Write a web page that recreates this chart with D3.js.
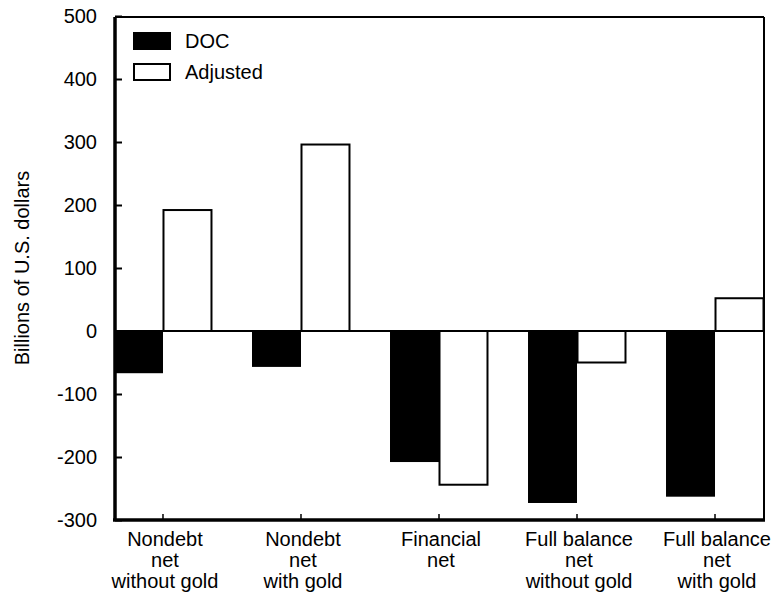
<!DOCTYPE html>
<html>
<head>
<meta charset="utf-8">
<script src="https://cdn.jsdelivr.net/npm/d3@7"></script>
<style>
  html, body { margin: 0; padding: 0; background: #fff; }
  svg { display: block; }
  text { font-family: "Liberation Sans", Arial, Helvetica, sans-serif; fill: #000; }
</style>
</head>
<body>
<svg id="chart" width="781" height="596"></svg>
<script>
const categories = [
  ["Nondebt", "net", "without gold"],
  ["Nondebt", "net", "with gold"],
  ["Financial", "net"],
  ["Full balance", "net", "without gold"],
  ["Full balance", "net", "with gold"]
];
const seriesNames = ["DOC", "Adjusted"];
const docValues = [-67, -57, -208, -273, -263];
const adjustedValues = [192, 296, -244, -50, 52];
const yTicks = [500, 400, 300, 200, 100, 0, -100, -200, -300];
const yLabel = "Billions of U.S. dollars";

const svg = d3.select("#chart");
const pLeft = 115, pRight = 764, pTop = 17, pBottom = 520;

const catKeys = categories.map((c, i) => i);
const x0 = d3.scaleBand().domain(catKeys).range([114, 764]).paddingInner(0.29).paddingOuter(0);
const x1 = d3.scaleBand().domain(seriesNames).range([0, x0.bandwidth()]).padding(0);
const y = d3.scaleLinear().domain([-300, 500]).range([520, 16]);

const data = catKeys.map(i => ({ i, values: [
  { s: "DOC", v: docValues[i] },
  { s: "Adjusted", v: adjustedValues[i] }
]}));

// bars
const g = svg.append("g");
const groups = g.selectAll("g.grp").data(data).join("g")
  .attr("transform", d => `translate(${x0(d.i)},0)`);
groups.selectAll("rect").data(d => d.values).join("rect")
  .attr("x", d => x1(d.s) + (d.s === "Adjusted" ? 0.5 : 0))
  .attr("width", d => x1.bandwidth() - (d.s === "Adjusted" ? 1 : 0))
  .attr("y", d => Math.min(y(d.v), y(0)))
  .attr("height", d => Math.abs(y(d.v) - y(0)))
  .attr("fill", d => d.s === "DOC" ? "#000" : "#fff")
  .attr("stroke", "#000")
  .attr("stroke-width", d => d.s === "DOC" ? 0 : 2);

// zero line
svg.append("line").attr("x1", pLeft).attr("x2", pRight)
  .attr("y1", y(0)).attr("y2", y(0))
  .attr("stroke", "#000").attr("stroke-width", 2);

// frame
svg.append("line").attr("x1", pLeft).attr("x2", pRight).attr("y1", pTop).attr("y2", pTop)
  .attr("stroke", "#000").attr("stroke-width", 2);
svg.append("line").attr("x1", pRight).attr("x2", pRight).attr("y1", pTop).attr("y2", pBottom)
  .attr("stroke", "#000").attr("stroke-width", 2);

// y axis
const yAxis = d3.axisLeft(y).tickValues(yTicks).tickSize(-7).tickPadding(18).tickFormat(d => String(d));
const ya = svg.append("g").attr("transform", `translate(${pLeft},0)`).call(yAxis);
ya.select(".domain").attr("stroke-width", 3.5).attr("d", `M0,${pTop}V${pBottom + 1}`);
ya.selectAll(".tick line").attr("stroke-width", 2);
ya.selectAll(".tick text").attr("font-size", 20).attr("font-family", "Liberation Sans, Arial, sans-serif");

// x axis line and ticks at group centers
svg.append("line").attr("x1", pLeft - 2).attr("x2", pRight + 1).attr("y1", pBottom).attr("y2", pBottom)
  .attr("stroke", "#000").attr("stroke-width", 3.5);
svg.append("g").selectAll("line").data(catKeys).join("line")
  .attr("x1", i => x0(i) + x0.bandwidth() / 2)
  .attr("x2", i => x0(i) + x0.bandwidth() / 2)
  .attr("y1", pBottom).attr("y2", pBottom - 6)
  .attr("stroke", "#000").attr("stroke-width", 1.5);

// category labels
const lab = svg.append("g").selectAll("text").data(catKeys).join("text")
  .attr("text-anchor", "middle")
  .attr("font-size", 20);
lab.each(function(i) {
  const t = d3.select(this);
  categories[i].forEach((line, k) => {
    t.append("tspan").attr("x", x0(i) + x0.bandwidth() / 2 + 2).attr("y", 546 + k * 21).text(line);
  });
});

// y label
svg.append("text")
  .attr("transform", "translate(29,268) rotate(-90)")
  .attr("text-anchor", "middle")
  .attr("font-size", 20)
  .text(yLabel);

// legend
const legend = svg.append("g");
seriesNames.forEach((s, k) => {
  legend.append("rect")
    .attr("x", s === "DOC" ? 133 : 134).attr("y", (s === "DOC" ? 32 : 64))
    .attr("width", s === "DOC" ? 38 : 36).attr("height", s === "DOC" ? 18 : 16)
    .attr("fill", s === "DOC" ? "#000" : "#fff")
    .attr("stroke", "#000").attr("stroke-width", s === "DOC" ? 0 : 2);
  legend.append("text").attr("x", 185).attr("y", 48 + k * 31)
    .attr("font-size", 20).text(s);
});
</script>
</body>
</html>
